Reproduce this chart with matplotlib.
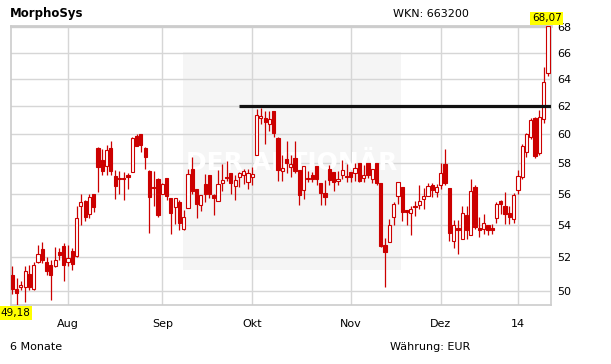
import matplotlib
matplotlib.use('Agg')
import matplotlib.pyplot as plt
from matplotlib.patches import Rectangle
from matplotlib.ticker import NullLocator
import numpy as np
import pandas as pd

# Handelstage (Xetra), 15.07.2013 - 13.01.2014
holidays = ['2013-12-24', '2013-12-25', '2013-12-26', '2013-12-31', '2014-01-01']
days = pd.bdate_range('2013-07-15', '2014-01-13')
days = days[~days.isin(pd.to_datetime(holidays))]

month_starts = ['2013-08-01', '2013-09-02', '2013-10-01', '2013-11-01', '2013-12-02', '2014-01-02']
month_labels = ['Aug', 'Sep', 'Okt', 'Nov', 'Dez', '14']
y_ticks = [50, 52, 54, 56, 58, 60, 62, 64, 66, 68]

# Kurse
opens = [50.95, 50.10, 50.20, 50.25, 51.00, 50.10, 51.72, 52.50, 51.70, 51.50,
         51.45, 52.30, 52.67, 51.70, 52.40, 52.06, 55.20, 55.50, 54.65, 56.00,
         59.06, 58.20, 57.80, 59.05, 57.15, 57.05, 57.00, 57.20, 57.45, 59.85,
         60.00, 59.05, 57.50, 56.40, 56.95, 56.00, 57.00, 55.74, 55.14, 55.42,
         53.75, 55.08, 57.60, 56.28, 55.23, 56.62, 57.22, 55.90, 55.53, 56.67,
         57.07, 57.33, 56.49, 57.07, 57.22, 56.73, 57.11, 58.57, 61.12, 61.16,
         60.70, 61.63, 59.72, 57.50, 58.28, 57.78, 58.39, 57.53, 56.22, 56.93,
         57.22, 57.82, 56.67, 56.04, 57.62, 57.40, 56.82, 57.22, 57.18, 57.40,
         57.33, 58.00, 57.00, 58.00, 56.93, 58.00, 56.67, 52.75, 52.95, 54.49,
         55.84, 56.40, 54.92, 54.77, 55.18, 55.27, 55.62, 55.84, 56.56, 56.11,
         56.56, 57.96, 56.33, 53.00, 53.80, 53.14, 54.62, 53.35, 56.40, 53.80,
         53.76, 54.00, 53.80, 54.45, 55.50, 55.18, 54.75, 54.39, 56.22, 57.11,
         58.80, 59.79, 61.12, 58.69, 61.05, 64.48]
highs = [51.45, 50.75, 50.60, 51.45, 51.50, 51.70, 52.73, 52.90, 52.00, 51.85,
         52.60, 52.55, 52.85, 52.75, 52.55, 55.20, 56.00, 55.60, 55.95, 56.00,
         59.10, 58.95, 59.25, 59.55, 57.55, 57.50, 57.45, 57.35, 59.80, 60.00,
         60.00, 59.10, 57.55, 57.50, 57.00, 56.70, 57.00, 55.74, 55.70, 55.57,
         54.92, 57.60, 58.45, 56.28, 55.93, 57.27, 57.22, 56.00, 57.55, 57.96,
         58.15, 57.33, 57.22, 57.44, 57.60, 57.60, 57.78, 61.80, 61.86, 61.63,
         61.63, 61.63, 59.84, 58.57, 59.50, 58.57, 59.50, 57.53, 57.82, 57.47,
         57.40, 57.82, 56.67, 56.89, 57.89, 57.40, 57.47, 58.23, 57.93, 57.40,
         58.00, 58.00, 57.89, 58.00, 57.62, 58.00, 56.67, 53.15, 54.34, 55.46,
         56.73, 56.40, 54.92, 55.20, 55.52, 56.56, 56.33, 56.67, 56.67, 56.62,
         58.00, 59.00, 56.33, 54.33, 54.27, 55.20, 55.20, 56.93, 56.56, 54.50,
         54.65, 54.00, 54.06, 55.46, 55.61, 56.10, 55.18, 56.04, 57.56, 59.31,
         60.07, 61.12, 61.19, 61.70, 64.90, 68.07]
lows = [49.80, 49.18, 50.05, 49.35, 50.05, 50.05, 51.62, 51.65, 50.90, 49.45,
        51.40, 51.80, 50.60, 51.45, 51.25, 52.00, 54.00, 54.25, 54.45, 54.80,
        56.10, 57.20, 57.20, 57.20, 55.65, 56.00, 55.60, 56.30, 57.40, 59.20,
        58.80, 57.65, 53.50, 55.20, 54.50, 55.95, 55.60, 53.40, 54.06, 53.68,
        53.68, 55.08, 56.00, 54.43, 54.90, 55.46, 55.74, 54.60, 55.53, 56.17,
        56.80, 55.94, 55.55, 56.40, 56.60, 56.27, 56.56, 58.57, 60.70, 59.31,
        60.23, 59.84, 56.82, 56.82, 57.33, 57.11, 57.33, 55.25, 55.67, 56.73,
        56.73, 56.56, 55.25, 55.25, 56.56, 56.18, 56.56, 56.98, 56.73, 56.78,
        56.80, 56.73, 56.73, 57.00, 56.67, 56.56, 52.60, 50.20, 52.95, 53.96,
        55.30, 54.22, 54.00, 53.35, 54.56, 55.03, 55.03, 55.84, 55.80, 55.78,
        56.29, 56.56, 53.00, 52.55, 52.22, 53.08, 53.08, 53.35, 53.71, 53.24,
        53.45, 53.35, 53.45, 54.10, 54.71, 54.06, 54.06, 54.10, 56.00, 56.93,
        58.46, 59.70, 58.39, 58.60, 60.80, 64.25]
closes = [50.10, 49.85, 50.35, 51.15, 50.20, 51.55, 52.22, 51.80, 51.15, 50.95,
          51.85, 52.10, 51.50, 51.95, 51.60, 54.45, 55.45, 54.50, 55.75, 55.15,
          57.78, 57.50, 58.90, 57.50, 56.50, 56.95, 56.95, 57.10, 59.72, 59.20,
          59.25, 58.45, 55.80, 56.35, 54.60, 56.60, 55.85, 54.75, 55.68, 54.10,
          54.50, 57.27, 56.18, 55.35, 55.93, 56.00, 56.00, 55.74, 56.62, 56.90,
          57.00, 56.67, 56.89, 57.33, 57.49, 57.38, 57.27, 61.35, 61.28, 60.88,
          61.07, 60.07, 57.56, 57.67, 58.05, 57.93, 57.47, 55.89, 57.82, 57.04,
          56.93, 56.93, 56.04, 55.78, 56.89, 56.73, 56.93, 57.56, 57.07, 57.11,
          57.67, 56.84, 57.22, 57.22, 57.62, 56.67, 52.69, 52.34, 54.00, 55.29,
          56.73, 54.82, 54.82, 54.97, 55.10, 55.51, 55.84, 56.51, 56.22, 56.44,
          57.33, 56.67, 53.50, 54.00, 53.65, 54.73, 53.65, 56.18, 53.86, 53.70,
          54.10, 53.65, 53.70, 55.29, 55.29, 54.71, 54.49, 55.89, 57.16, 59.20,
          60.00, 61.00, 58.51, 61.19, 63.80, 68.07]

# Widerstandslinie
resistance = 62.0
resistance_from = '2013-09-26'

red = '#cc0000'
grid_col = '#d6d6d6'

o = np.array(opens)
h = np.array(highs)
l = np.array(lows)
c = np.array(closes)
x = np.arange(len(days))
up = c >= o
down = ~up

fig = plt.figure(figsize=(6.11, 3.64), dpi=100)
ax = fig.add_axes([10.5 / 611, 59 / 364, 540.2 / 611, 279 / 364])
ax.set_yscale('log')

# graues Feld mit Wasserzeichen
ax.add_patch(Rectangle((0.319, 0.125), 0.404, 0.782, transform=ax.transAxes,
                       facecolor='#f5f5f5', edgecolor='none', zorder=0.5))
ax.text(0.521, 0.51, 'DER AKTIONÄR', transform=ax.transAxes, color='white',
        fontsize=18, fontweight='bold', ha='center', va='center', zorder=0.6)

# Kerzen
ax.vlines(x, l, h, color=red, lw=0.9, zorder=3)
body_w = 0.75
hgt = np.maximum(np.abs(c - o), 0.04)
ax.bar(x[up], hgt[up], bottom=o[up], width=body_w, facecolor='white',
       edgecolor=red, lw=0.8, zorder=4)
ax.bar(x[down], hgt[down], bottom=c[down], width=body_w, facecolor=red,
       edgecolor=red, lw=0.8, zorder=4)

# Linie bei 62
start = days.get_loc(pd.Timestamp(resistance_from))
ax.hlines(resistance, start, len(days) + 1, color='#111111', lw=2.3, zorder=5)

ax.set_xlim(-0.42, len(days) - 0.35)
ax.set_ylim(49.18, 68.07)

ax.set_yticks(y_ticks)
ax.set_yticklabels([str(v) for v in y_ticks])
ax.yaxis.set_minor_locator(NullLocator())
ax.yaxis.tick_right()
tick_idx = [days.get_loc(pd.Timestamp(d)) for d in month_starts]
ax.set_xticks(tick_idx)
ax.set_xticklabels(month_labels)
ax.tick_params(axis='y', length=0, labelsize=8, pad=5)
ax.tick_params(axis='x', length=0, labelsize=8, pad=10)

ax.grid(True, color=grid_col, lw=1.0, zorder=0)
ax.set_axisbelow(True)
for s in ax.spines.values():
    s.set_color('#cccccc')
    s.set_linewidth(1.2)
ax.spines['top'].set_linewidth(2)

# Texte
fig.text(10 / 611, 1 - 13 / 364, 'MorphoSys', fontsize=8.5, fontweight='bold', va='center')
fig.text(393 / 611, 1 - 14 / 364, 'WKN: 663200', fontsize=8, va='center')
fig.text(10 / 611, 1 - 347 / 364, '6 Monate', fontsize=8, va='center')
fig.text(390 / 611, 1 - 347 / 364, 'Währung: EUR', fontsize=8, va='center')
fig.text(0.5 / 611, 1 - 313 / 364, '49,18', fontsize=7.5, va='center',
         bbox=dict(facecolor='#ffff00', edgecolor='none', pad=1.2))
fig.text(532 / 611, 1 - 18.5 / 364, '68,07', fontsize=7.5, va='center',
         bbox=dict(facecolor='#ffff00', edgecolor='none', pad=1.2))

fig.savefig('out.png', dpi=100)
